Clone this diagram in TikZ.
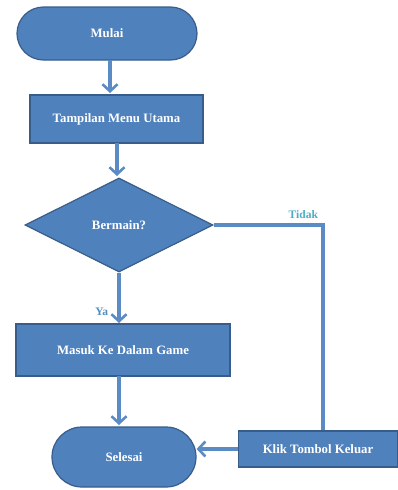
\documentclass[tikz,border=0pt]{standalone}
\usepackage{fontspec}
\setmainfont{Liberation Serif}
\usetikzlibrary{shapes.geometric,shapes.misc,arrows.meta}
\definecolor{boxfill}{HTML}{4F81BD}
\definecolor{boxline}{HTML}{385D8A}
\definecolor{conn}{HTML}{5B8BC4}
\definecolor{lbl}{HTML}{4BACC6}
\definecolor{lblya}{HTML}{4F8FC0}
\begin{document}
\begin{tikzpicture}[x=1pt,y=-1pt,
  base/.style={fill=boxfill,draw=boxline,line width=1.2pt,text=white,font=\bfseries\fontsize{12.8}{15}\selectfont,inner sep=0pt},
  term/.style={base,rounded rectangle},
  proc/.style={base,rectangle},
  dec/.style={base,diamond,aspect=2},
  conn/.style={draw=conn,line width=3.2pt,-{Straight Barb[length=7pt,width=15pt,line width=2.6pt]}},
  plain/.style={draw=conn,line width=3.2pt},
  lab/.style={text=lbl,font=\bfseries\fontsize{11.5}{13}\selectfont}]
\useasboundingbox (0,0) rectangle (398,490);
\node[term,minimum width=180pt,minimum height=53pt] (mulai) at (107,33.5) {Mulai};
\node[proc,minimum width=173pt,minimum height=48pt] (menu) at (116.5,119) {Tampilan Menu Utama};
\node[dec,minimum width=188pt,minimum height=94pt] (bermain) at (119,225) {Bermain?};
\node[proc,minimum width=214pt,minimum height=52pt] (masuk) at (123,350) {Masuk Ke Dalam Game};
\node[term,minimum width=144pt,minimum height=60pt] (selesai) at (124,457) {Selesai};
\node[proc,minimum width=159pt,minimum height=36pt] (klik) at (318,449) {Klik Tombol Keluar};
\coordinate (turn) at (323,225);
\draw[conn] (110,60) -- (110,93);
\draw[conn] (117,143) -- (117,176);
\draw[conn] (bermain.south) -- (119,323) node[lab,text=lblya,pos=0.78,left=6pt] {Ya};
\draw[conn] (119,376) -- (119,425);
\draw[plain] (bermain.east) -- (turn) node[lab,pos=0.82,above=1pt] {Tidak} -- (turn |- klik.north);
\draw[conn] (klik.west) -- (selesai.east |- klik.west);
\end{tikzpicture}
\end{document}
